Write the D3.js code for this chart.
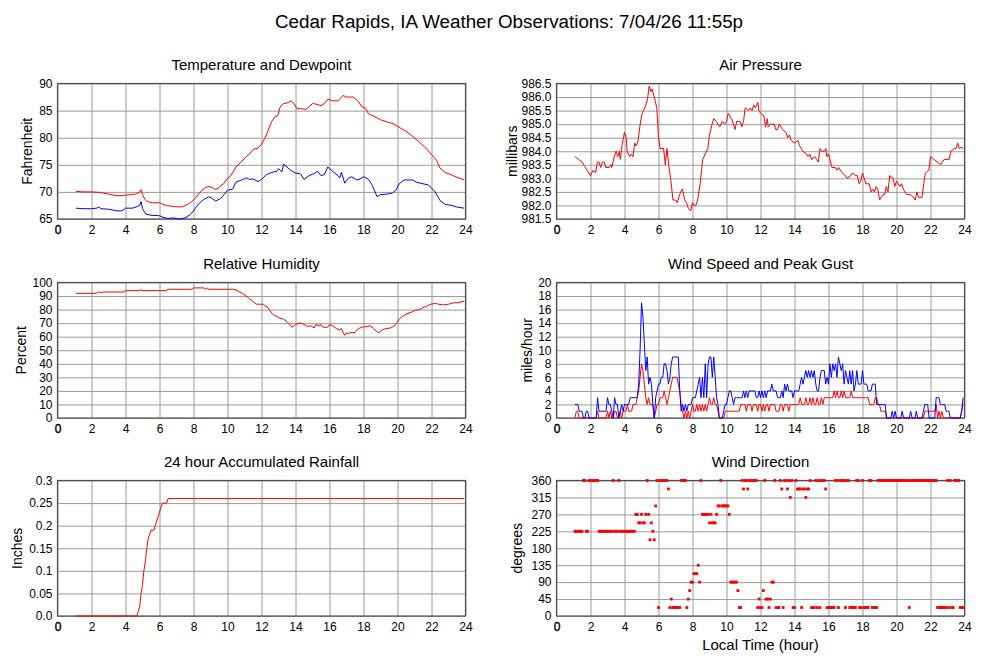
<!DOCTYPE html>
<html><head><meta charset="utf-8">
<script src="https://cdn.jsdelivr.net/npm/d3@7"></script>
<style>
body{margin:0;background:#fff;}
text{font-family:"Liberation Sans",Arial,Helvetica,sans-serif;fill:#000;}
</style></head>
<body><svg id="c" width="1000" height="660"></svg>
<script>
// ---------------- DATA ----------------
const chartTitle = "Cedar Rapids, IA Weather Observations: 7/04/26 11:55p";
const hourTicks = [0,2,4,6,8,10,12,14,16,18,20,22,24];
const tempTicks = [65,70,75,80,85,90];
const pressureTicks = [981.5,982.0,982.5,983.0,983.5,984.0,984.5,985.0,985.5,986.0,986.5];
const rhTicks = [0,10,20,30,40,50,60,70,80,90,100];
const windTicks = [0,2,4,6,8,10,12,14,16,18,20];
const rainTicks = [0,0.05,0.1,0.15,0.2,0.25,0.3];
const rainTickLabels = ["0.0","0.05","0.1","0.15","0.2","0.25","0.3"];
const dirTicks = [0,45,90,135,180,225,270,315,360];

// [hour, °F]
const temperature = [[1.08,70.1],[1.5,70.0],[2.0,70.0],[2.5,69.9],[3.0,69.6],[3.5,69.3],[3.8,69.3],[4.0,69.4],[4.3,69.5],[4.6,69.6],[4.8,69.9],[4.92,70.4],[5.0,69.5],[5.15,68.6],[5.3,68.2],[5.6,68.0],[6.0,68.0],[6.2,67.7],[6.4,67.5],[6.8,67.3],[7.2,67.2],[7.4,67.3],[7.7,67.8],[7.9,68.2],[8.1,68.8],[8.3,69.6],[8.5,70.3],[8.7,70.8],[8.9,71.0],[9.1,70.8],[9.3,70.4],[9.5,70.8],[9.8,71.6],[10.0,72.5],[10.2,73.0],[10.5,74.6],[10.8,75.5],[11.1,76.5],[11.3,77.0],[11.5,77.8],[11.8,78.1],[12.0,78.8],[12.2,79.9],[12.4,81.4],[12.6,83.0],[12.8,83.9],[12.95,84.0],[13.1,85.7],[13.3,86.3],[13.5,86.4],[13.75,86.8],[13.9,86.3],[14.1,85.3],[14.3,85.4],[14.6,85.2],[14.8,85.7],[15.0,86.3],[15.2,86.2],[15.5,85.9],[15.7,86.3],[15.9,87.1],[16.2,86.8],[16.5,86.8],[16.65,87.3],[16.8,87.8],[17.0,87.5],[17.4,87.5],[17.7,86.7],[17.9,85.7],[18.1,85.5],[18.3,84.4],[18.6,84.0],[19.0,83.3],[19.5,82.8],[19.8,82.5],[20.1,81.9],[20.5,81.2],[20.9,80.2],[21.2,79.4],[21.6,78.3],[22.0,76.9],[22.3,75.8],[22.5,74.4],[22.8,73.6],[23.2,73.1],[23.5,72.7],[23.92,72.2]];
const dewpoint = [[1.08,67.0],[1.5,66.9],[2.0,66.9],[2.3,67.0],[2.45,67.2],[2.55,66.9],[3.0,66.8],[3.5,66.5],[3.8,66.5],[4.0,67.0],[4.4,67.0],[4.7,67.3],[4.85,67.6],[4.92,68.2],[5.0,66.9],[5.2,65.9],[5.5,65.7],[6.0,65.6],[6.2,65.3],[6.5,65.1],[6.8,65.2],[7.2,65.0],[7.5,65.2],[7.8,65.8],[8.0,66.5],[8.3,67.8],[8.6,68.6],[8.9,69.1],[9.1,68.8],[9.3,68.3],[9.6,68.8],[9.8,69.5],[10.0,70.3],[10.3,70.5],[10.5,71.8],[10.9,72.3],[11.1,72.6],[11.3,72.3],[11.5,72.4],[11.8,71.9],[12.0,72.3],[12.3,73.2],[12.6,73.6],[12.9,73.8],[13.0,74.3],[13.2,73.7],[13.3,75.1],[13.5,74.6],[13.7,74.0],[14.0,73.5],[14.3,73.3],[14.5,72.3],[14.8,73.0],[15.1,73.4],[15.3,73.8],[15.5,73.0],[15.7,73.2],[15.9,74.6],[16.1,74.0],[16.3,73.5],[16.5,73.0],[16.6,72.6],[16.7,73.6],[16.9,71.6],[17.1,72.5],[17.3,72.8],[17.6,72.2],[17.8,72.4],[18.0,72.8],[18.3,72.3],[18.5,71.3],[18.8,69.1],[19.0,69.5],[19.4,69.6],[19.7,69.8],[19.9,70.3],[20.1,71.5],[20.4,72.2],[20.9,72.2],[21.1,71.8],[21.5,71.5],[21.8,71.3],[22.0,70.7],[22.2,70.1],[22.5,68.4],[22.8,67.7],[23.2,67.5],[23.5,67.2],[23.92,67.0]];
// [hour, mb]
const pressure = [[1.08,983.8],[1.3,983.7],[1.5,983.6],[1.7,983.4],[1.8,983.3],[2.0,983.1],[2.15,983.3],[2.3,983.2],[2.4,983.6],[2.5,983.6],[2.6,983.4],[2.7,983.6],[2.8,983.6],[2.9,983.4],[3.1,983.4],[3.2,983.5],[3.25,983.4],[3.4,983.8],[3.5,984.0],[3.6,983.8],[3.7,984.0],[3.75,983.7],[3.85,984.2],[4.0,984.7],[4.1,984.5],[4.15,984.0],[4.3,983.8],[4.4,983.9],[4.5,983.8],[4.6,984.3],[4.7,984.2],[4.8,984.4],[4.9,984.9],[5.0,985.3],[5.1,985.5],[5.2,985.6],[5.35,985.9],[5.45,986.4],[5.55,986.2],[5.62,986.3],[5.75,986.0],[5.9,985.6],[6.0,984.5],[6.1,984.1],[6.3,984.1],[6.4,983.5],[6.5,984.1],[6.6,983.5],[6.75,982.8],[6.85,982.2],[7.0,982.2],[7.1,982.1],[7.3,982.5],[7.4,982.6],[7.55,982.2],[7.65,982.1],[7.75,981.9],[7.9,981.8],[8.0,982.1],[8.1,982.0],[8.2,982.0],[8.3,982.2],[8.45,982.8],[8.6,983.7],[8.75,983.9],[8.9,984.1],[9.0,984.6],[9.15,985.0],[9.25,985.2],[9.4,985.1],[9.5,985.0],[9.6,984.9],[9.75,985.1],[9.9,985.0],[10.0,985.1],[10.1,985.4],[10.3,985.2],[10.4,985.0],[10.5,984.8],[10.6,985.1],[10.8,985.1],[10.9,984.9],[11.0,985.1],[11.1,985.6],[11.3,985.5],[11.4,985.6],[11.5,985.5],[11.6,985.7],[11.7,985.6],[11.85,985.8],[11.9,985.5],[12.0,985.4],[12.2,985.3],[12.3,984.9],[12.4,985.2],[12.45,984.9],[12.6,985.0],[12.8,985.0],[12.9,984.8],[13.0,984.8],[13.1,985.0],[13.3,984.8],[13.5,984.7],[13.6,984.5],[13.7,984.6],[13.8,984.4],[14.0,984.3],[14.2,984.4],[14.3,984.2],[14.5,984.0],[14.7,983.9],[14.8,983.8],[14.9,983.9],[15.0,983.7],[15.2,983.8],[15.3,983.7],[15.4,983.6],[15.5,984.1],[15.6,984.0],[15.75,984.0],[15.85,984.1],[15.9,983.8],[16.0,983.9],[16.2,983.4],[16.4,983.4],[16.5,983.3],[16.6,983.4],[16.8,983.2],[17.0,983.1],[17.1,983.0],[17.3,983.1],[17.4,983.2],[17.6,983.1],[17.7,983.1],[17.8,982.8],[17.9,982.9],[18.0,983.2],[18.2,982.8],[18.4,982.8],[18.5,982.5],[18.6,982.6],[18.7,982.5],[18.8,982.7],[18.9,982.6],[19.0,982.2],[19.2,982.4],[19.3,982.4],[19.4,982.7],[19.5,982.5],[19.6,983.1],[19.8,983.0],[19.9,982.7],[20.0,982.9],[20.2,982.7],[20.3,982.8],[20.4,982.6],[20.6,982.4],[20.8,982.4],[21.0,982.3],[21.1,982.2],[21.2,982.5],[21.3,982.3],[21.5,982.3],[21.6,982.8],[21.7,983.2],[21.9,983.3],[22.0,983.8],[22.2,983.7],[22.4,983.6],[22.6,983.5],[22.8,983.7],[23.1,983.7],[23.2,984.0],[23.4,984.1],[23.5,984.1],[23.6,984.3],[23.7,984.1],[23.8,984.15],[23.92,984.1]];
// [hour, %]
const humidity = [[1.08,92],[2.3,92],[2.4,93],[2.6,92.5],[2.7,93],[3.9,93],[4.0,94],[4.85,94],[4.9,95],[4.95,94],[6.4,94],[6.5,95],[7.9,95],[8.0,96],[8.6,96],[8.7,95],[8.8,96],[8.9,95],[10.3,95],[10.5,94.5],[10.7,93],[10.9,92],[11.1,90],[11.3,88],[11.5,86],[11.7,84],[12.1,84],[12.2,83],[12.4,81],[12.5,79],[12.7,76],[12.9,75],[13.1,73.5],[13.3,73],[13.5,71],[13.7,68.5],[13.8,67],[14.0,69],[14.3,70.3],[14.5,69],[14.7,67.6],[14.9,68],[15.1,66.5],[15.2,69],[15.4,68],[15.5,69],[15.6,67],[15.9,67],[16.0,69],[16.2,68],[16.4,66],[16.6,65],[16.7,66],[16.8,63],[16.9,61],[17.0,63],[17.1,62],[17.2,63],[17.5,63],[17.7,66],[17.9,67],[18.2,67.5],[18.4,68],[18.6,66],[18.8,63.6],[18.9,63],[19.1,65],[19.3,66],[19.6,66.5],[19.8,68],[19.9,69],[20.1,73],[20.3,75],[20.5,76.7],[20.8,78],[21.0,79.3],[21.3,80],[21.5,81.4],[21.8,83],[22.0,84.2],[22.3,84.5],[22.4,84],[22.7,83.5],[23.0,84],[23.3,85],[23.6,85],[23.8,86],[23.92,86]];
// [hour, inches]
const rainfall = [[1.08,0],[4.67,0],[4.75,0.01],[4.83,0.02],[4.92,0.05],[5.0,0.07],[5.08,0.10],[5.17,0.12],[5.25,0.15],[5.33,0.17],[5.42,0.18],[5.5,0.19],[5.67,0.19],[5.75,0.20],[5.83,0.21],[5.92,0.22],[6.0,0.23],[6.08,0.24],[6.17,0.25],[6.42,0.25],[6.5,0.26],[23.92,0.26]];

// 5-minute observations, one row per hour (row for hour 1 begins at 1:05)
const windSpeedRows = [
 [0,1,1,0,0,0,0,0,0,0,0],
 [0,0,0,0,0,1,0,0,0,0,0,0],
 [1,0,1,0,0,1,1,0,0,1,0,1],
 [1,1,2,1,1,1,2,2,2,3,4,6],
 [8,7,5,3,2,3,2,2,2,0,1,2],
 [2,3,3,3,4,3,2,3,4,5,6,6],
 [6,6,5,4,2,1,0,1,0,1,0,1],
 [2,1,1,2,1,2,1,2,1,2,1,2],
 [3,2,2,3,2,2,1,0,0,0,0,1],
 [1,1,1,1,1,1,1,1,1,1,2,2],
 [2,2,1,2,2,2,1,2,2,2,1,2],
 [2,1,2,1,2,2,1,2,2,2,2,1],
 [1,1,2,2,1,2,2,2,1,2,2,2],
 [2,2,2,2,3,2,2,2,3,2,2,3],
 [2,3,2,2,3,2,2,3,2,3,3,3],
 [3,3,3,3,4,3,4,3,3,4,3,4],
 [3,3,3,3,4,3,3,3,3,3,3,3],
 [3,3,3,3,3,2,2,2,2,3,3,2],
 [2,1,1,1,1,0,0,0,0,0,0,0],
 [0,0,0,0,0,0,0,0,0,0,0,0],
 [0,0,0,0,0,0,0,0,1,1,1,1],
 [1,1,1,1,2,0,1,0,1,0,0,0],
 [0,0,0,0,0,0,0,0,0,0,1,2]
];
const windGustRows = [
 [2,2,2,1,1,1,0,0,1,1,0],
 [0,0,0,0,0,3,1,1,1,1,1,1],
 [3,2,2,1,0,3,2,2,0,1,2,1],
 [2,2,2,2,3,3,3,3,3,3,5,10],
 [17,15,11,7,9,5,6,5,2,0,3,4],
 [5,5,6,6,8,8,7,5,6,8,9,9],
 [9,9,9,4,1,2,1,2,1,2,2,2],
 [3,3,3,4,5,6,3,6,3,8,3,8],
 [9,9,6,9,6,3,2,0,0,0,1,2],
 [2,3,4,4,3,2,3,3,3,3,3,3],
 [4,3,4,3,4,4,4,4,4,3,3,4],
 [3,4,3,4,3,4,4,4,5,4,4,4],
 [3,3,3,4,3,5,4,5,4,4,4,3],
 [4,4,4,4,5,6,5,6,7,6,7,6],
 [7,6,7,5,4,4,6,7,7,7,5,6],
 [5,8,6,8,7,8,6,9,8,7,8,5],
 [7,6,5,7,5,7,4,5,7,5,5,5],
 [7,5,5,5,4,4,4,5,5,5,2,2],
 [2,2,2,2,2,0,0,0,0,1,0,1],
 [0,0,0,0,1,0,0,0,0,0,1,0],
 [0,0,1,0,0,0,0,1,2,2,2,0],
 [0,0,0,0,3,3,3,2,2,2,2,1],
 [1,1,0,0,0,0,0,0,0,0,1,3]
];
const windDirRows = [
 [225,225,225,225,225,225,360,360,225,225,360],
 [360,360,360,360,360,360,225,225,225,225,225,225],
 [225,225,225,225,360,225,225,225,360,225,225,225],
 [225,225,225,225,225,225,225,225,270,270,247.5,247.5],
 [270,247.5,247.5,270,360,270,202.5,247.5,225,202.5,292.5,360],
 [22.5,360,360,360,360,360,360,337.5,22.5,45,22.5,22.5],
 [22.5,22.5,22.5,22.5,360,360,360,360,22.5,45,67.5,90],
 [90,112.5,112.5,112.5,135,90,360,270,270,270,270,270],
 [247.5,270,247.5,247.5,247.5,270,292.5,292.5,360,292.5,292.5,292.5],
 [292.5,292.5,270,90,90,90,90,90,67.5,22.5,22.5,360],
 [337.5,360,360,337.5,360,360,360,360,360,360,22.5,45],
 [22.5,22.5,67.5,360,45,45,22.5,45,90,90,360,22.5],
 [22.5,22.5,360,337.5,22.5,360,360,337.5,360,315,360,22.5],
 [22.5,360,337.5,337.5,337.5,22.5,337.5,337.5,315,337.5,337.5,360],
 [22.5,22.5,22.5,360,22.5,360,22.5,360,360,360,337.5,22.5],
 [22.5,22.5,22.5,22.5,22.5,360,360,22.5,360,360,360,360],
 [22.5,360,360,22.5,22.5,22.5,22.5,22.5,360,360,22.5,22.5],
 [360,22.5,22.5,22.5,22.5,360,360,22.5,22.5,22.5,22.5,360],
 [360,360,360,360,360,360,360,360,360,360,360,360],
 [360,360,360,360,360,360,360,360,360,22.5,360,360],
 [360,360,360,360,360,360,360,360,360,360,360,360],
 [360,360,360,360,360,22.5,22.5,22.5,22.5,22.5,22.5,22.5],
 [360,22.5,360,22.5,22.5,360,360,360,360,22.5,22.5,22.5]
];

// expand hourly rows of 5-min observations into [hour, value]
function rowsToSeries(rows){
  const out=[];
  rows.forEach((row,r)=>{
    const hour=r+1, start=12-row.length;
    row.forEach((v,j)=>out.push([hour+(start+j)/12, v]));
  });
  return out;
}
const windSpeed = rowsToSeries(windSpeedRows);
const windGust = rowsToSeries(windGustRows);
const windDir = rowsToSeries(windDirRows);

// ---------------- LAYOUT ----------------
const svg = d3.select("#c");
svg.append("rect").attr("width",1000).attr("height",660).attr("fill","#fff");
svg.append("text").attr("x",509).attr("y",28).attr("text-anchor","middle")
   .style("font-size","18.8px").text(chartTitle);

const W=408, H=135.5;
const panels = [
 {x:57.5,y:83.5,title:"Temperature and Dewpoint",ylab:"Fahrenheit",labX:27,domain:[65,90],ticks:tempTicks,fmt:d=>d,
  lines:[{d:temperature,c:"#ff0000"},{d:dewpoint,c:"#0000ff"}]},
 {x:556.5,y:83.5,title:"Air Pressure",ylab:"millibars",labX:512,domain:[981.5,986.5],ticks:pressureTicks,fmt:d=>d.toFixed(1),
  lines:[{d:pressure,c:"#ff0000"}]},
 {x:57.5,y:282.5,title:"Relative Humidity",ylab:"Percent",labX:21,domain:[0,100],ticks:rhTicks,fmt:d=>d,
  lines:[{d:humidity,c:"#ff0000"}]},
 {x:556.5,y:282.5,title:"Wind Speed and Peak Gust",ylab:"miles/hour",labX:527,domain:[0,20],ticks:windTicks,fmt:d=>d,
  lines:[{d:windSpeed,c:"#ff0000"},{d:windGust,c:"#0000ff"}]},
 {x:57.5,y:480.5,title:"24 hour Accumulated Rainfall",ylab:"Inches",labX:17,domain:[0,0.3],ticks:rainTicks,fmt:(d,i)=>rainTickLabels[i],
  lines:[{d:rainfall,c:"#ff0000"}]},
 {x:556.5,y:480.5,title:"Wind Direction",ylab:"degrees",labX:517,domain:[0,360],ticks:dirTicks,fmt:d=>d,
  dots:windDir, xlab:"Local Time (hour)"}
];

panels.forEach(p=>{
  const g = svg.append("g").attr("transform",`translate(${p.x},${p.y})`);
  const x = d3.scaleLinear().domain([0,24]).range([0,W]);
  const y = d3.scaleLinear().domain(p.domain).range([H,0]);

  // grid via axes
  const gx = g.append("g").attr("transform",`translate(0,${H})`)
     .call(d3.axisBottom(x).tickValues(hourTicks).tickSize(-H).tickPadding(6.5).tickFormat(d=>d));
  const gy = g.append("g")
     .call(d3.axisLeft(y).tickValues(p.ticks).tickSize(-W).tickPadding(5).tickFormat(p.fmt));
  [gx,gy].forEach(a=>{
    a.select(".domain").remove();
    a.selectAll(".tick line").attr("stroke","#9a9a9a").attr("stroke-width",1);
    a.selectAll(".tick text").style("font-size","12px").attr("fill","#000")
      .style("font-family","'Liberation Sans',Arial,sans-serif");
  });
  gx.selectAll(".tick text").filter(d=>d===0).attr("stroke","#000").attr("stroke-width",0.4);

  // frame (drawn beneath the data, as in the reference)
  g.append("rect").attr("x",0).attr("y",0).attr("width",W).attr("height",H)
   .attr("fill","none").attr("stroke","#505050").attr("stroke-width",1.2);

  const clipId = "clip"+Math.round(p.x)+"_"+Math.round(p.y);
  g.append("clipPath").attr("id",clipId).append("rect").attr("x",-2).attr("y",-2).attr("width",W+4).attr("height",H+4);

  if(p.lines){
    const line = d3.line().x(d=>x(d[0])).y(d=>y(d[1]));
    p.lines.forEach(s=>{
      g.append("path").datum(s.d).attr("d",line).attr("fill","none")
       .attr("stroke",s.c).attr("stroke-width",1).attr("clip-path",`url(#${clipId})`);
    });
  }
  if(p.dots){
    g.selectAll("rect.dot").data(p.dots).enter().append("rect").attr("class","dot")
     .attr("x",d=>x(d[0])-1.4).attr("y",d=>y(d[1])-1.4).attr("width",2.8).attr("height",2.8)
     .attr("fill","#ff0000");
  }

  // titles
  svg.append("text").attr("x",p.x+W/2).attr("y",p.y-14).attr("text-anchor","middle")
     .style("font-size","15px").text(p.title);
  svg.append("text").attr("transform",`translate(${p.labX},${p.y+H/2}) rotate(-90)`)
     .attr("text-anchor","middle").attr("dy","0.35em").style("font-size","14px").text(p.ylab);
  if(p.xlab){
    svg.append("text").attr("x",p.x+W/2).attr("y",p.y+H+34).attr("text-anchor","middle")
       .style("font-size","15px").text(p.xlab);
  }
});
</script></body></html>
